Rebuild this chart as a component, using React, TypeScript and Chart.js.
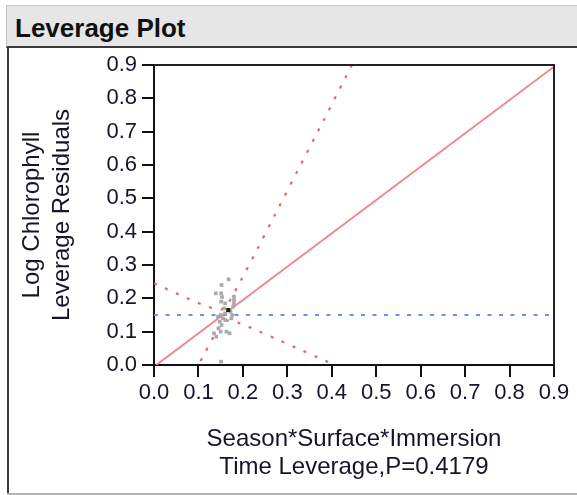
import { useEffect, useRef } from "react";
import { Chart, registerables } from "chart.js";

Chart.register(...registerables);

// Axis ticks shared by both axes
const tickValues = [0, 0.1, 0.2, 0.3, 0.4, 0.5, 0.6, 0.7, 0.8, 0.9];
const tickLabels = ["0.0", "0.1", "0.2", "0.3", "0.4", "0.5", "0.6", "0.7", "0.8", "0.9"];

// Leverage residual points (x leverage, y leverage residual)
const residX = [0.168, 0.152, 0.139, 0.151, 0.153, 0.18, 0.18, 0.18, 0.178, 0.151, 0.16, 0.172, 0.176, 0.16, 0.15, 0.144, 0.155, 0.148, 0.16, 0.152, 0.145, 0.15, 0.135, 0.14, 0.163, 0.17, 0.151, 0.158, 0.174];
const residY = [0.257, 0.24, 0.215, 0.215, 0.204, 0.205, 0.195, 0.185, 0.175, 0.19, 0.185, 0.16, 0.15, 0.155, 0.15, 0.145, 0.14, 0.13, 0.135, 0.12, 0.11, 0.1, 0.095, 0.085, 0.1, 0.095, 0.01, 0.17, 0.14];

// Mean point
const meanX = [0.167];
const meanY = [0.165];

// Fitted line ends
const fitX = [0.005, 0.9];
const fitY = [0, 0.895];

// Horizontal mean-response line
const hX = [0, 0.9];
const hY = [0.15, 0.15];

// Confidence curves
const upperX = [0, 0.05, 0.1, 0.13, 0.145, 0.157, 0.17, 0.18, 0.21, 0.25, 0.3, 0.35, 0.4, 0.45];
const upperY = [0.245, 0.215, 0.186, 0.171, 0.166, 0.17, 0.192, 0.215, 0.29, 0.393, 0.523, 0.652, 0.782, 0.912];
const lowerX = [0.08, 0.1, 0.12, 0.14, 0.145, 0.157, 0.17, 0.18, 0.21, 0.25, 0.3, 0.35, 0.4, 0.42];
const lowerY = [-0.052, 0.0, 0.05, 0.099, 0.11, 0.13, 0.134, 0.131, 0.116, 0.093, 0.063, 0.034, 0.004, -0.008];

const pts = (xs: number[], ys: number[]) => xs.map((x, i) => ({ x, y: ys[i] }));

const FONT = "'Liberation Sans', Arial, sans-serif";
const TEXT = "#15152a";

const framePlugin = {
  id: "frame",
  afterDatasetsDraw(chart: any) {
    const { ctx, chartArea: a } = chart;
    ctx.save();
    ctx.strokeStyle = "#222";
    ctx.lineWidth = 2;
    ctx.beginPath();
    ctx.moveTo(a.left, a.top);
    ctx.lineTo(a.right, a.top);
    ctx.lineTo(a.right, a.bottom);
    ctx.stroke();
    ctx.restore();
  },
};

export default function App() {
  const ref = useRef<HTMLCanvasElement>(null);

  useEffect(() => {
    const chart = new Chart(ref.current!, {
      type: "scatter",
      data: {
        datasets: [
          {
            data: pts(meanX, meanY),
            pointStyle: "rect",
            pointRadius: 2.8,
            backgroundColor: "#1a1a1a",
            borderWidth: 0,
            order: 0,
          },
          {
            data: pts(residX, residY),
            pointStyle: "rect",
            pointRadius: 2.6,
            backgroundColor: "#a9a9a9",
            borderWidth: 0,
            order: 1,
          },
          {
            data: pts(hX, hY),
            showLine: true,
            pointRadius: 0,
            borderColor: "#6f8ef2",
            borderWidth: 2,
            borderDash: [4, 7.5],
            order: 2,
          },
          {
            data: pts(fitX, fitY),
            showLine: true,
            pointRadius: 0,
            borderColor: "#f47f88",
            borderWidth: 1.8,
            order: 3,
          },
          {
            data: pts(upperX, upperY),
            showLine: true,
            pointRadius: 0,
            borderColor: "#f0606e",
            borderWidth: 2.2,
            borderDash: [3, 9],
            tension: 0.35,
            order: 4,
          },
          {
            data: pts(lowerX, lowerY),
            showLine: true,
            pointRadius: 0,
            borderColor: "#f0606e",
            borderWidth: 2.2,
            borderDash: [3, 9],
            tension: 0.35,
            order: 5,
          },
        ],
      },
      options: {
        responsive: false,
        animation: false,
        events: [],
        layout: { padding: { left: 0, top: 65, right: 23, bottom: 0 } },
        plugins: { legend: { display: false }, tooltip: { enabled: false } },
        scales: {
          x: {
            type: "linear",
            min: 0,
            max: 0.9,
            afterBuildTicks: (s: any) => {
              s.ticks = tickValues.map((v) => ({ value: v }));
            },
            afterFit: (s: any) => {
              s.height = 130;
            },
            ticks: {
              autoSkip: false,
              maxRotation: 0,
              padding: 3,
              color: TEXT,
              font: { family: FONT, size: 22 },
              callback: (_v: any, i: number) => tickLabels[i],
            },
            grid: { drawOnChartArea: false, drawTicks: true, tickLength: 12, color: "#111", lineWidth: 2 },
            border: { display: true, color: "#111", width: 2 },
            title: {
              display: true,
              text: ["Season*Surface*Immersion", "Time Leverage,P=0.4179"],
              color: TEXT,
              font: { family: FONT, size: 24, lineHeight: 28 / 24 },
              padding: { top: 0, bottom: 14 },
            },
          },
          y: {
            type: "linear",
            min: 0,
            max: 0.9,
            afterBuildTicks: (s: any) => {
              s.ticks = tickValues.map((v) => ({ value: v }));
            },
            afterFit: (s: any) => {
              s.width = 154;
            },
            ticks: {
              autoSkip: false,
              padding: 5,
              color: TEXT,
              font: { family: FONT, size: 22 },
              callback: (_v: any, i: number) => tickLabels[i],
            },
            grid: { drawOnChartArea: false, drawTicks: true, tickLength: 12, color: "#111", lineWidth: 2 },
            border: { display: true, color: "#111", width: 2 },
            title: {
              display: true,
              text: ["Log Chlorophyll", "Leverage Residuals"],
              color: TEXT,
              font: { family: FONT, size: 24, lineHeight: 30 / 24 },
              padding: { top: 17, bottom: 0 },
            },
          },
        },
      },
      plugins: [framePlugin],
    });
    return () => chart.destroy();
  }, []);

  return (
    <div style={{ position: "absolute", left: 0, top: 0, width: 577, height: 495, background: "#fff", overflow: "hidden" }}>
      <div
        style={{
          position: "absolute",
          left: 6,
          top: 5,
          width: 571,
          height: 40,
          background: "#e6e6e6",
          borderTop: "1px solid #c6c6c6",
          borderLeft: "1px solid #c6c6c6",
          borderBottom: "2px solid #3a3a3a",
        }}
      />
      <div
        style={{
          position: "absolute",
          left: 15,
          top: 13,
          font: `bold 26px ${FONT}`,
          lineHeight: "30px",
          color: "#111",
          whiteSpace: "nowrap",
        }}
      >
        Leverage Plot
      </div>
      <div style={{ position: "absolute", left: 7, top: 48, width: 2, height: 446, background: "#3a3a3a" }} />
      <div style={{ position: "absolute", left: 7, top: 493, width: 570, height: 2, background: "#b4b4b4" }} />
      <canvas ref={ref} width={577} height={495} style={{ position: "absolute", left: 0, top: 0 }} />
    </div>
  );
}
